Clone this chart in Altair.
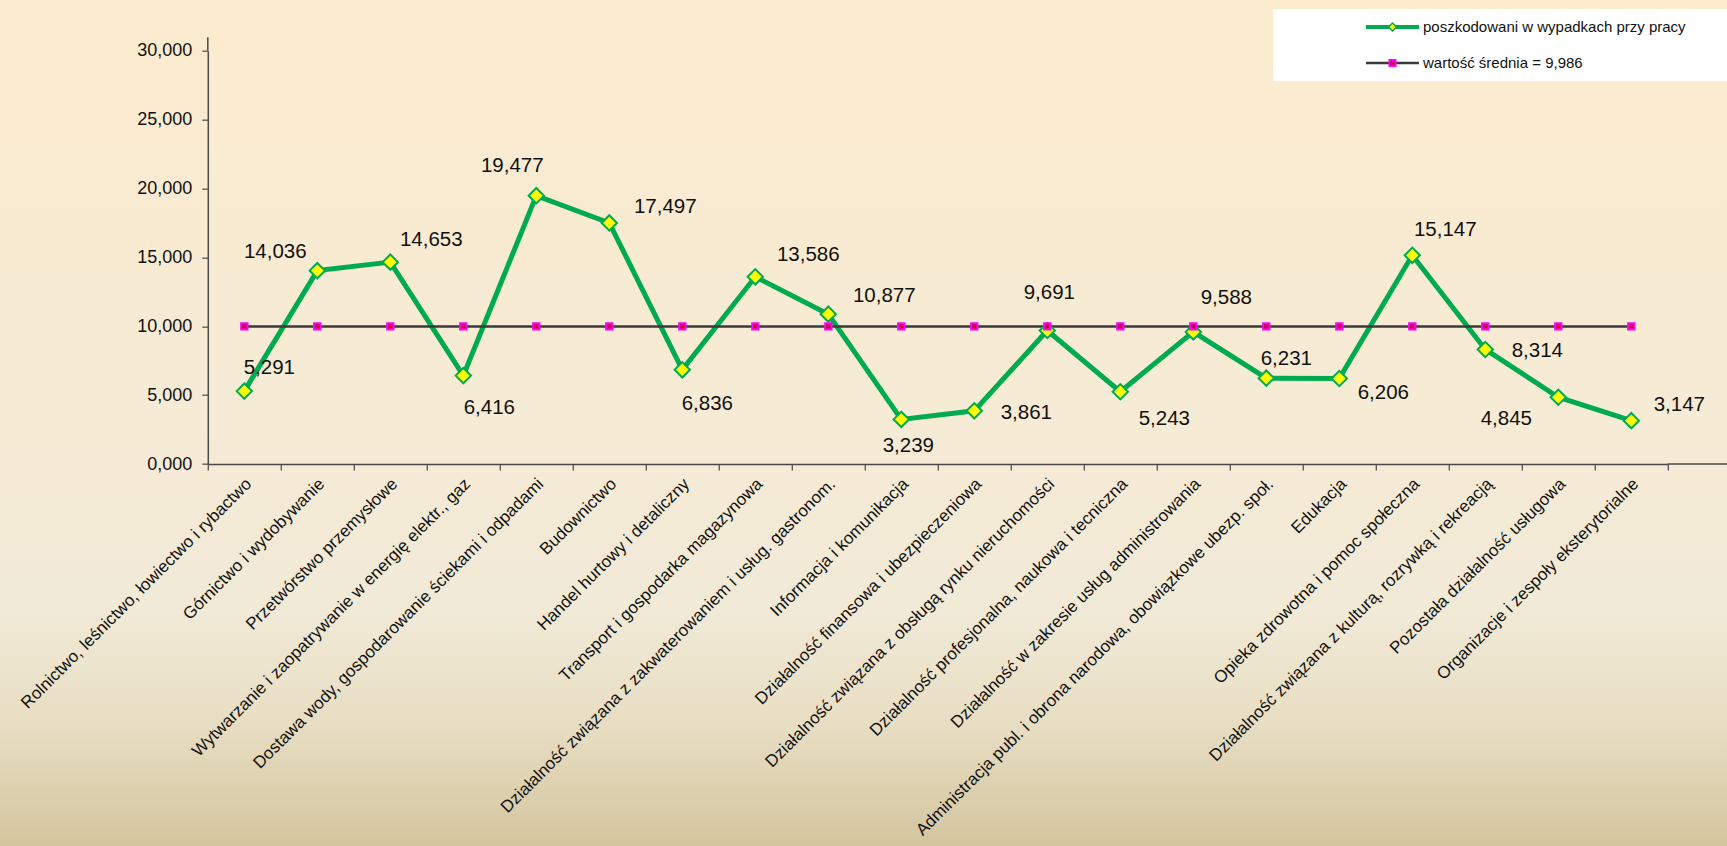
import altair as alt
import pandas as pd

# ---------------- data ----------------
categories = [
    "Rolnictwo, leśnictwo, łowiectwo i rybactwo",
    "Górnictwo i wydobywanie",
    "Przetwórstwo przemysłowe",
    "Wytwarzanie i zaopatrywanie w energię elektr., gaz",
    "Dostawa wody, gospodarowanie ściekami i odpadami",
    "Budownictwo",
    "Handel hurtowy i detaliczny",
    "Transport i gospodarka magazynowa",
    "Działalność związana z zakwaterowaniem i usług. gastronom.",
    "Informacja i komunikacja",
    "Działalność finansowa i ubezpieczeniowa",
    "Działalność związana z obsługą rynku nieruchomości",
    "Działalność profesjonalna, naukowa i tecniczna",
    "Działalność w zakresie usług administrowania",
    "Administracja publ. i obrona narodowa, obowiązkowe ubezp. społ.",
    "Edukacja",
    "Opieka zdrowotna i pomoc społeczna",
    "Działalność związana z kulturą, rozrywką i rekreacją",
    "Pozostała działalność usługowa",
    "Organizacje i zespoły eksterytorialne",
]
values = [5.291, 14.036, 14.653, 6.416, 19.477, 17.497, 6.836, 13.586, 10.877, 3.239,
          3.861, 9.691, 5.243, 9.588, 6.231, 6.206, 15.147, 8.314, 4.845, 3.147]
mean_value = 9.986
y_ticks = [0, 5, 10, 15, 20, 25, 30]

series_name = "poszkodowani w wypadkach przy pracy"
mean_name = "wartość średnia = 9,986"

# label placement (pixel offsets from each point, as in the original)
label_dx = [25, -42, 41, 26, -24, 56, 25, 53, 56, 7, 52, 2, 44, 33, 20, 44, 33, 52, -52, 48]
label_dy = [-23, -19, -22, 32, -30, -16, 34, -22, -18, 27, 2, -37, 27, -34, -19, 14, -25, 2, 22, -16]

# ---------------- layout ----------------
W, H = 1460, 413.3
LEFT, TOP = 207.8, 50.7
RIGHT = 1727 - LEFT - W
BOTTOM = 846 - TOP - H

GREEN = "#00AA4F"
FONT = "Liberation Sans"

df = pd.DataFrame({
    "cat": categories,
    "val": values,
    "mean": [mean_value] * len(values),
    "ldx": label_dx,
    "ldy": label_dy,
})
one = pd.DataFrame({"a": [0]})

fmt = "replace(format(datum.value, '.3f'), '.', ',')"

x_enc = alt.X(
    "cat:N", sort=categories, bandPosition=0.5,
    scale=alt.Scale(type="band", paddingInner=0, paddingOuter=0),
    axis=alt.Axis(
        title=None, labelAngle=-45, labelAlign="right", labelBaseline="middle",
        labelFontSize=17, labelFont=FONT, labelColor="#111111", labelLimit=1000,
        labelOverlap=False, labelPadding=11, labelOffset=4, tickBand="extent", tickSize=6,
        tickColor="#555555", tickWidth=1.3, domainColor="#4a4a4a", domainWidth=1.5,
        zindex=1,
    ),
)
y_scale = alt.Scale(domain=[0, 30], nice=False, zero=True)
y_enc = alt.Y(
    "val:Q", scale=y_scale,
    axis=alt.Axis(
        title=None, values=y_ticks, labelExpr=fmt, labelFontSize=18, labelFont=FONT,
        labelColor="#111111", tickSize=6, tickColor="#555555", tickWidth=1.3,
        domainColor="#4a4a4a", domainWidth=1.5, labelPadding=10, grid=False, zindex=1,
    ),
)

bg = alt.Chart(one).mark_rect(
    fill=alt.Gradient(
        gradient="linear", x1=0, y1=0, x2=0, y2=1,
        stops=[
            alt.GradientStop(color="#FCEBCF", offset=0),
            alt.GradientStop(color="#F6EBD5", offset=0.5),
            alt.GradientStop(color="#F1EAD7", offset=0.72),
            alt.GradientStop(color="#E7DDC2", offset=0.86),
            alt.GradientStop(color="#D4C59E", offset=1),
        ],
    ),
    clip=False,
).encode(
    x=alt.value(-LEFT), x2=alt.value(W + RIGHT),
    y=alt.value(-TOP), y2=alt.value(H + BOTTOM),
)

base = alt.Chart(df)

green_line = base.mark_line(color=GREEN, strokeWidth=5).encode(x=x_enc, y=y_enc)
mean_line = base.mark_line(color="#3a3a3a", strokeWidth=2.5).encode(
    x=x_enc, y=alt.Y("mean:Q", scale=y_scale))
diamonds = base.mark_point(
    shape="diamond", size=235, filled=True, fill="#FFFF00", stroke=GREEN,
    strokeWidth=2, opacity=1,
).encode(x=x_enc, y=y_enc)
squares = base.mark_point(
    shape="square", size=40, filled=True, fill="#C0003C", stroke="#FF00FF",
    strokeWidth=2, opacity=1,
).encode(x=x_enc, y=alt.Y("mean:Q", scale=y_scale))

labels = base.transform_calculate(
    lbl="replace(format(datum.val, '.3f'), '.', ',')"
).mark_text(
    font=FONT, fontSize=20.5, color="#111111", align="center", baseline="middle",
    dx=alt.ExprRef(expr="datum.ldx"), dy=alt.ExprRef(expr="datum.ldy"),
).encode(
    x=x_enc, y=y_enc,
    text="lbl:N",
)

# axis line extensions as in the original frame
ext_x = alt.Chart(one).mark_rule(color="#4a4a4a", strokeWidth=1.5).encode(
    x=alt.value(W), x2=alt.value(W + RIGHT), y=alt.value(H))
ext_y = alt.Chart(one).mark_rule(color="#4a4a4a", strokeWidth=1.5).encode(
    x=alt.value(0), y=alt.value(-13.5), y2=alt.value(0))

# legend (white box with two entries)
LX0 = 1273 - LEFT
LX1 = 1727 - LEFT
LY0 = 9 - TOP
LY1 = 81 - TOP
ROW1 = 27 - TOP
ROW2 = 63 - TOP
SYM0, SYM1 = 1366 - LEFT, 1419 - LEFT
SYMC = (SYM0 + SYM1) / 2
TXT = 1423 - LEFT

leg_box = alt.Chart(one).mark_rect(fill="white", clip=False).encode(
    x=alt.value(LX0), x2=alt.value(LX1), y=alt.value(LY0), y2=alt.value(LY1))
leg_l1 = alt.Chart(one).mark_rule(color=GREEN, strokeWidth=4).encode(
    x=alt.value(SYM0), x2=alt.value(SYM1), y=alt.value(ROW1))
leg_p1 = alt.Chart(one).mark_point(
    shape="diamond", size=64, filled=True, fill="#FFFF00", stroke=GREEN,
    strokeWidth=1.5, opacity=1).encode(x=alt.value(SYMC), y=alt.value(ROW1))
leg_t1 = alt.Chart(one).mark_text(
    text=series_name, font=FONT, fontSize=15, color="#111111", align="left",
    baseline="middle").encode(x=alt.value(TXT), y=alt.value(ROW1))
leg_l2 = alt.Chart(one).mark_rule(color="#3a3a3a", strokeWidth=2.5).encode(
    x=alt.value(SYM0), x2=alt.value(SYM1), y=alt.value(ROW2))
leg_p2 = alt.Chart(one).mark_point(
    shape="square", size=36, filled=True, fill="#C0003C", stroke="#FF00FF",
    strokeWidth=2, opacity=1).encode(x=alt.value(SYMC), y=alt.value(ROW2))
leg_t2 = alt.Chart(one).mark_text(
    text=mean_name, font=FONT, fontSize=15, color="#111111", align="left",
    baseline="middle").encode(x=alt.value(TXT), y=alt.value(ROW2))

chart = alt.layer(
    bg, green_line, mean_line, diamonds, squares, labels, ext_x, ext_y,
    leg_box, leg_l1, leg_p1, leg_t1, leg_l2, leg_p2, leg_t2,
).properties(
    width=W, height=H,
    autosize=alt.AutoSizeParams(type="none"),
    padding={"left": LEFT, "top": TOP, "right": RIGHT, "bottom": BOTTOM},
).configure(background="#F6ECD6").configure_view(stroke=None)

chart.save("out.html", embed_options={"renderer": "svg", "actions": False})
